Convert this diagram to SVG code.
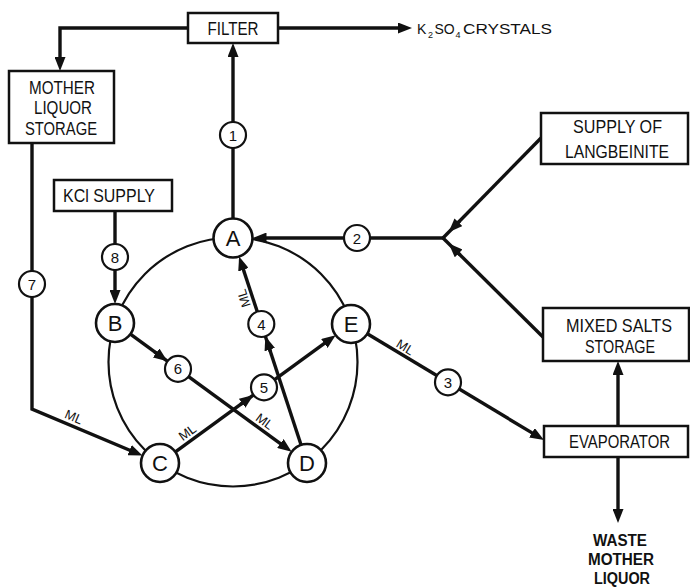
<svg xmlns="http://www.w3.org/2000/svg" width="690" height="587" viewBox="0 0 690 587">
<style>
.box{fill:#fff;stroke:#111;stroke-width:2.5}
.node{fill:#fff;stroke:#111;stroke-width:2.6}
.num{fill:#fff;stroke:#111;stroke-width:2.2}
.ring{fill:none;stroke:#111;stroke-width:2.2}
.ln{fill:none;stroke:#111;stroke-width:3.4}
.t{font-family:"Liberation Sans",Arial,sans-serif;fill:#111;text-anchor:middle}
.bt{font-size:18px}
.lt{font-size:22px}
.nt{font-size:15px}
.ml{font-size:13px}
</style>
<defs>
<marker id="arr" markerUnits="userSpaceOnUse" markerWidth="14" markerHeight="11" viewBox="0 0 14 11" refX="6" refY="5.5" orient="auto">
<path d="M0,0 L14,5.5 L0,11 Z" fill="#111"/>
</marker>
</defs>

<circle class="ring" cx="233" cy="362" r="124.5"/>

<g id="connectors">
<path class="ln" d="M188,28 H60 V63" marker-end="url(#arr)"/>
<path class="ln" d="M278,28 H404" marker-end="url(#arr)"/>
<line class="ln" x1="233" y1="218.5" x2="233" y2="51" marker-end="url(#arr)"/>
<path class="ln" d="M443,238 H260.5" marker-end="url(#arr)"/>
<line class="ln" x1="542" y1="137" x2="443" y2="238"/>
<line class="ln" x1="459.8" y1="220.9" x2="454.2" y2="226.6" marker-end="url(#arr)"/>
<line class="ln" x1="543" y1="337" x2="443" y2="238"/>
<line class="ln" x1="460.1" y1="254.9" x2="454.4" y2="249.2" marker-end="url(#arr)"/>
<line class="ln" x1="367.3" y1="333.8" x2="537.1" y2="435.9" marker-end="url(#arr)"/>
<line class="ln" x1="301.1" y1="445" x2="241.6" y2="264.1" marker-end="url(#arr)"/>
<line class="ln" x1="270.4" y1="351.5" x2="267.9" y2="343.9" marker-end="url(#arr)"/>
<line class="ln" x1="175.4" y1="451.8" x2="329.2" y2="339.9" marker-end="url(#arr)"/>
<line class="ln" x1="240.6" y1="404.4" x2="247" y2="399.7" marker-end="url(#arr)"/>
<line class="ln" x1="130.4" y1="334.2" x2="285.2" y2="447.1" marker-end="url(#arr)"/>
<line class="ln" x1="154.6" y1="351.8" x2="161" y2="356.5" marker-end="url(#arr)"/>
<path class="ln" d="M32,143 V409 L135.1,452.5" marker-end="url(#arr)"/>
<line class="ln" x1="115" y1="211" x2="115" y2="296" marker-end="url(#arr)"/>
<line class="ln" x1="618" y1="426" x2="618" y2="369" marker-end="url(#arr)"/>
<line class="ln" x1="618" y1="457" x2="618" y2="515" marker-end="url(#arr)"/>

<g id="stream-numbers">
<circle class="num" cx="233" cy="135" r="13"/><text class="t nt" x="233" y="140.5">1</text>
<circle class="num" cx="357" cy="238" r="13"/><text class="t nt" x="357" y="243.5">2</text>
<circle class="num" cx="448" cy="382.3" r="13"/><text class="t nt" x="448" y="387.8">3</text>
<circle class="num" cx="261.3" cy="324" r="13"/><text class="t nt" x="261.3" y="329.5">4</text>
<circle class="num" cx="264" cy="387.3" r="13"/><text class="t nt" x="264" y="392.8">5</text>
<circle class="num" cx="178" cy="368.9" r="13"/><text class="t nt" x="178" y="374.4">6</text>
<circle class="num" cx="32" cy="284" r="13"/><text class="t nt" x="32" y="289.5">7</text>
<circle class="num" cx="115" cy="257" r="13"/><text class="t nt" x="115" y="262.5">8</text>
</g>

<g id="ml-labels">
<text class="t ml" transform="translate(72,421) rotate(23)">ML</text>
<text class="t ml" transform="translate(190,436) rotate(-36)">ML</text>
<text class="t ml" transform="translate(262,425) rotate(36)">ML</text>
<text class="t ml" transform="translate(248,297) rotate(-108)">ML</text>
<text class="t ml" transform="translate(403,351) rotate(31)">ML</text>
</g>
</g>

<g id="filter">
<rect class="box" x="188" y="13" width="90" height="30"/>
<text class="t bt" x="233" y="35" textLength="51" lengthAdjust="spacingAndGlyphs">FILTER</text>
</g>

<g id="k2so4-crystals">
<text class="t" style="text-anchor:start;font-size:14px" x="417" y="34">K<tspan x="428" y="37.5" font-size="9">2</tspan><tspan x="434.5" y="34">SO</tspan><tspan x="455.5" y="37.5" font-size="9">4</tspan> <tspan x="463" y="34" textLength="89" lengthAdjust="spacingAndGlyphs">CRYSTALS</tspan></text>
</g>

<g id="mother-liquor-storage">
<rect class="box" x="9" y="71" width="105" height="72"/>
<text class="t bt" x="62" y="94" textLength="66" lengthAdjust="spacingAndGlyphs">MOTHER</text>
<text class="t bt" x="63" y="113.5" textLength="58" lengthAdjust="spacingAndGlyphs">LIQUOR</text>
<text class="t bt" x="61" y="135" textLength="72" lengthAdjust="spacingAndGlyphs">STORAGE</text>
</g>

<g id="kcl-supply">
<rect class="box" x="54" y="180" width="118" height="31"/>
<text class="t bt" x="109" y="201.5" textLength="92" lengthAdjust="spacingAndGlyphs">KCl SUPPLY</text>
</g>

<g id="langbeinite-supply">
<rect class="box" x="541" y="113" width="147" height="51"/>
<text class="t bt" x="617.5" y="133" textLength="89" lengthAdjust="spacingAndGlyphs">SUPPLY OF</text>
<text class="t bt" x="617" y="158" textLength="104" lengthAdjust="spacingAndGlyphs">LANGBEINITE</text>
</g>

<g id="mixed-salts-storage">
<rect class="box" x="543" y="308" width="146" height="53"/>
<text class="t bt" x="619" y="332" textLength="106" lengthAdjust="spacingAndGlyphs">MIXED SALTS</text>
<text class="t bt" x="620" y="353" textLength="70" lengthAdjust="spacingAndGlyphs">STORAGE</text>
</g>

<g id="evaporator">
<rect class="box" x="544" y="426" width="144" height="31"/>
<text class="t bt" x="619.5" y="448" textLength="101" lengthAdjust="spacingAndGlyphs">EVAPORATOR</text>
</g>

<g id="waste-mother-liquor">
<text class="t" font-size="16" font-weight="bold" x="620" y="546" textLength="54" lengthAdjust="spacingAndGlyphs">WASTE</text>
<text class="t" font-size="16" font-weight="bold" x="621" y="565" textLength="66" lengthAdjust="spacingAndGlyphs">MOTHER</text>
<text class="t" font-size="16" font-weight="bold" x="622" y="584" textLength="56" lengthAdjust="spacingAndGlyphs">LIQUOR</text>
</g>

<g id="node-A"><circle class="node" cx="233" cy="238" r="19.5"/><text class="t lt" x="233" y="246">A</text></g>
<g id="node-B"><circle class="node" cx="115" cy="323" r="19"/><text class="t lt" x="115" y="331">B</text></g>
<g id="node-C"><circle class="node" cx="160" cy="463" r="19"/><text class="t lt" x="160" y="471">C</text></g>
<g id="node-D"><circle class="node" cx="307" cy="463" r="19"/><text class="t lt" x="307" y="471">D</text></g>
<g id="node-E"><circle class="node" cx="351" cy="324" r="19"/><text class="t lt" x="351" y="332">E</text></g>
</svg>
